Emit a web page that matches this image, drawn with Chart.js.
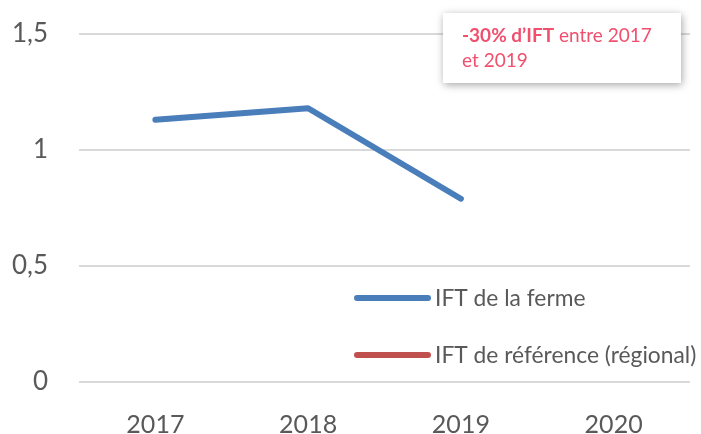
<!DOCTYPE html>
<html><head><meta charset="utf-8">
<script src="https://cdn.jsdelivr.net/npm/chart.js@4/dist/chart.umd.min.js"></script>
<style>html,body{margin:0;padding:0;background:#fff}#wrap{width:701px;height:434px}</style>
</head><body><div id="wrap"><canvas id="c" width="701" height="434"></canvas></div>
<script>
const categories = ['2017', '2018', '2019', '2020'];
const ferme = [1.13, 1.18, 0.79, null];
const reference = [null, null, null, null];
const seriesLabels = ['IFT de la ferme', 'IFT de référence (régional)'];
const yTicks = [0, 0.5, 1, 1.5];
const noteBold = '-30% d\u2019IFT';
const noteRest = ' entre 2017';
const noteLine2 = 'et 2019';

const FONT = 'Lato, "Open Sans", sans-serif';
const GRAY = '#595959';

const overlay = {
  id: 'overlay',
  afterDraw(chart) {
    const ctx = chart.ctx;
    ctx.save();
    // legend
    ctx.font = '22.8px ' + FONT;
    ctx.textBaseline = 'middle';
    const rows = [298, 355];
    chart.data.datasets.forEach((ds, i) => {
      ctx.strokeStyle = ds.borderColor;
      ctx.lineWidth = 6;
      ctx.lineCap = 'round';
      ctx.beginPath(); ctx.moveTo(357, rows[i]); ctx.lineTo(428, rows[i]); ctx.stroke();
      ctx.fillStyle = GRAY;
      ctx.fillText(ds.label, 435, rows[i] + 1);
    });
    // annotation box
    ctx.shadowColor = 'rgba(0,0,0,0.35)';
    ctx.shadowBlur = 8;
    ctx.shadowOffsetX = 1; ctx.shadowOffsetY = 2;
    ctx.fillStyle = '#fff';
    ctx.fillRect(443, 13, 238, 70);
    ctx.shadowColor = 'transparent';
    ctx.fillStyle = '#f0506e';
    ctx.textBaseline = 'alphabetic';
    ctx.font = 'bold 19px ' + FONT;
    ctx.fillText(noteBold, 462, 42);
    const w = ctx.measureText(noteBold).width;
    ctx.font = '19px ' + FONT;
    ctx.fillText(noteRest, 462 + w, 42);
    ctx.fillText(noteLine2, 462, 67);
    ctx.restore();
  }
};

new Chart(document.getElementById('c'), {
  type: 'line',
  data: {
    labels: categories,
    datasets: [
      { label: seriesLabels[0], data: ferme, borderColor: '#4a7ebb', borderWidth: 6, pointRadius: 0, tension: 0, borderCapStyle: 'round', borderJoinStyle: 'round' },
      { label: seriesLabels[1], data: reference, borderColor: '#c0504d', borderWidth: 6, pointRadius: 0, tension: 0 }
    ]
  },
  options: {
    responsive: false,
    animation: false,
    layout: { padding: { top: 34, right: 11, left: 0, bottom: 0 } },
    plugins: { legend: { display: false }, tooltip: { enabled: false } },
    scales: {
      x: {
        offset: true,
        grid: { display: false },
        border: { display: false },
        ticks: { font: { family: FONT, size: 25 }, color: GRAY, padding: 20, maxRotation: 0 },
        afterFit(s) { s.height = 52; s.paddingLeft = 0; s.paddingRight = 0; }
      },
      y: {
        min: 0, max: 1.5,
        afterBuildTicks(s) { s.ticks = yTicks.map(v => ({ value: v })); },
        grid: { color: '#d9d9d9', lineWidth: 2, drawTicks: false },
        border: { display: false },
        ticks: {
          font: { family: FONT, size: 26 }, color: GRAY, padding: 31,
          callback: v => String(v).replace('.', ',')
        },
        afterFit(s) { s.width = 79; s.paddingTop = 0; s.paddingBottom = 0; }
      }
    }
  },
  plugins: [overlay]
});
</script></body></html>
